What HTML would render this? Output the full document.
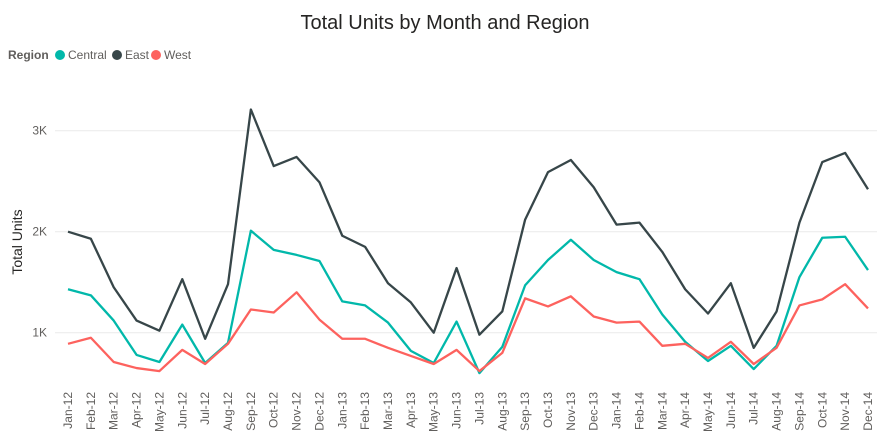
<!DOCTYPE html>
<html><head><meta charset="utf-8"><style>
body{margin:0;background:#fff;font-family:"Liberation Sans",sans-serif;}
svg{display:block}
</style></head><body>
<svg id="chart" width="890" height="440">
<text x="445" y="29" text-anchor="middle" font-size="20" fill="#252423">Total Units by Month and Region</text>
<g>
<text x="8" y="59" font-size="12" font-weight="bold" fill="#605e5c">Region</text>
<g><circle cx="60" cy="55" r="5" fill="#01b8aa"/><text x="68" y="59" font-size="12" fill="#605e5c">Central</text></g>
<g><circle cx="117" cy="55" r="5" fill="#374649"/><text x="125" y="59" font-size="12" fill="#605e5c">East</text></g>
<g><circle cx="156" cy="55" r="5" fill="#fd625e"/><text x="164" y="59" font-size="12" fill="#605e5c">West</text></g>
</g>
<text transform="translate(22,242) rotate(-90)" text-anchor="middle" font-size="14" fill="#252423">Total Units</text>
<g id="grid"></g><g id="xlabels"></g><g id="lines"></g>
</svg>
<script>
const months=["Jan-12","Feb-12","Mar-12","Apr-12","May-12","Jun-12","Jul-12","Aug-12","Sep-12","Oct-12","Nov-12","Dec-12","Jan-13","Feb-13","Mar-13","Apr-13","May-13","Jun-13","Jul-13","Aug-13","Sep-13","Oct-13","Nov-13","Dec-13","Jan-14","Feb-14","Mar-14","Apr-14","May-14","Jun-14","Jul-14","Aug-14","Sep-14","Oct-14","Nov-14","Dec-14"];
const east=[2000,1930,1450,1120,1020,1530,940,1480,3210,2650,2740,2490,1960,1850,1490,1300,1000,1640,980,1210,2120,2590,2710,2440,2070,2090,1800,1430,1190,1490,850,1210,2090,2690,2780,2420];
const central=[1430,1370,1120,780,710,1080,700,900,2010,1820,1770,1710,1310,1270,1100,820,700,1110,600,860,1470,1720,1920,1720,1600,1530,1180,910,720,870,640,870,1550,1940,1950,1620];
const west=[890,950,710,650,620,830,690,890,1230,1200,1400,1130,940,940,850,770,690,830,620,800,1340,1260,1360,1160,1100,1110,870,890,750,910,690,850,1270,1330,1480,1240];
const yTicks=[1000,2000,3000];
const yTickLabels=["1K","2K","3K"];
const NS="http://www.w3.org/2000/svg";
const x0=68,x1=868;
function xs(i){return x0+(x1-x0)*i/(months.length-1);}
function ys(v){return 332.7-(v-1000)*0.101;}
const grid=document.getElementById('grid');
yTicks.forEach((t,i)=>{
 const l=document.createElementNS(NS,'line');
 l.setAttribute('x1',55);l.setAttribute('x2',877);l.setAttribute('y1',ys(t));l.setAttribute('y2',ys(t));
 l.setAttribute('stroke','#eaeaea');l.setAttribute('stroke-width','1');
 
 
 grid.appendChild(l);
 const tx=document.createElementNS(NS,'text');
 tx.setAttribute('x',47);tx.setAttribute('y',ys(t)+4);tx.setAttribute('text-anchor','end');
 tx.setAttribute('font-size','12');tx.setAttribute('fill','#605e5c');
 tx.textContent=yTickLabels[i];
 
 
 grid.appendChild(tx);
});
const xl=document.getElementById('xlabels');
months.forEach((m,i)=>{
 const tx=document.createElementNS(NS,'text');
 tx.setAttribute('transform','translate('+(xs(i)+4)+',392) rotate(-90)');
 tx.setAttribute('text-anchor','end');tx.setAttribute('font-size','12');tx.setAttribute('fill','#605e5c');
 tx.textContent=m;
 
 
 xl.appendChild(tx);
});
const lg=document.getElementById('lines');
[[east,'#374649','east-line'],[central,'#01b8aa','central-line'],[west,'#fd625e','west-line']].forEach(s=>{
 const p=document.createElementNS(NS,'polyline');
 p.setAttribute('points',s[0].map((v,i)=>xs(i)+','+ys(v)).join(' '));
 p.setAttribute('fill','none');p.setAttribute('stroke',s[1]);p.setAttribute('stroke-width','2.3');
 p.setAttribute('stroke-linejoin','round');
 
 
 lg.appendChild(p);
});
</script>
</body></html>
